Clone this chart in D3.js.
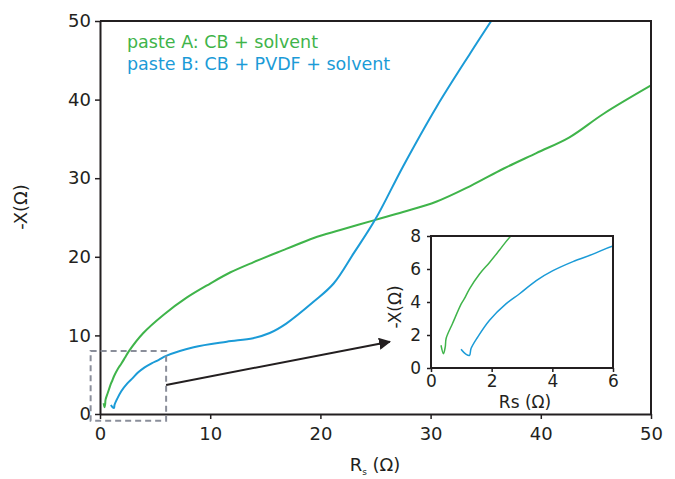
<!DOCTYPE html>
<html>
<head>
<meta charset="utf-8">
<script src="https://cdn.jsdelivr.net/npm/d3@7"></script>
<style>
  body { margin: 0; background: #fff; }
  text { font-family: "DejaVu Sans", sans-serif; fill: #231f20; }
</style>
</head>
<body>
<script>
var w = 675;
var h = 479;

// paste A (CB + solvent)
var pasteA_rs = [0.33, 0.41, 0.47, 0.5, 0.71, 1.0, 1.1, 1.27, 1.6, 1.93, 2.26, 2.61, 3.93, 5.75, 7.86, 10, 11.8, 13.9, 16.9, 19.4, 21.8, 25, 27.5, 30.5, 33.6, 36.6, 39.6, 42.6, 45.7, 50];
var pasteA_x  = [1.38, 0.87, 1.28, 1.8, 2.7, 3.9, 4.2, 4.8, 5.7, 6.4, 7.15, 7.96, 10.3, 12.6, 14.8, 16.6, 18.0, 19.3, 21.0, 22.4, 23.4, 24.7, 25.7, 27.0, 29.0, 31.2, 33.2, 35.2, 38.2, 41.8];

// paste B (CB + PVDF + solvent)
var pasteB_rs = [0.99, 1.16, 1.27, 1.32, 1.54, 1.93, 2.48, 2.92, 3.47, 4.02, 4.68, 5.34, 6.0, 8.5, 11.5, 13.9, 15.4, 16.9, 19.4, 21.2, 23, 25, 27.5, 30.55, 33.6, 35.5];
var pasteB_x  = [1.14, 0.83, 0.77, 1.18, 1.88, 2.9, 3.9, 4.5, 5.3, 5.9, 6.45, 6.9, 7.4, 8.5, 9.2, 9.65, 10.3, 11.5, 14.3, 16.6, 20.4, 24.8, 31.5, 39.1, 45.9, 50];

var mainTicks = [0, 10, 20, 30, 40, 50];
var insetXTicks = [0, 2, 4, 6];
var insetYTicks = [0, 2, 4, 6, 8];
var legendLabels = ["paste A: CB + solvent", "paste B: CB + PVDF + solvent"];

var green = "#3fb44a";
var blue = "#1b9bd7";
var axisColor = "#231f20";

function zip(a, b) { return a.map(function(v, i) { return [v, b[i]]; }); }
var seriesA = zip(pasteA_rs, pasteA_x);
var seriesB = zip(pasteB_rs, pasteB_x);

var svg = d3.select("body").append("svg")
    .attr("width", w)
    .attr("height", h);

// ---- main plot ----
var x = d3.scaleLinear().domain([0, 50]).range([100, 651]);
var y = d3.scaleLinear().domain([0, 50]).range([414, 21]);

svg.append("clipPath").attr("id", "clipMain")
  .append("rect").attr("x", 100).attr("y", 21).attr("width", 551).attr("height", 393);

var line = d3.line()
    .x(function(d) { return x(d[0]); })
    .y(function(d) { return y(d[1]); })
    .curve(d3.curveCatmullRom.alpha(0.5));

var plot = svg.append("g").attr("clip-path", "url(#clipMain)");
plot.append("path").datum(seriesA).attr("d", line)
    .attr("fill", "none").attr("stroke", green).attr("stroke-width", 2);
plot.append("path").datum(seriesB).attr("d", line)
    .attr("fill", "none").attr("stroke", blue).attr("stroke-width", 2);

// frame (top + right)
svg.append("path")
    .attr("d", "M100,21H651V414")
    .attr("fill", "none").attr("stroke", axisColor).attr("stroke-width", 2);

var xAxis = svg.append("g")
    .attr("transform", "translate(0,414)")
    .call(d3.axisBottom(x).tickValues(mainTicks).tickSize(5).tickPadding(8).tickSizeOuter(0));
var yAxis = svg.append("g")
    .attr("transform", "translate(100,0)")
    .call(d3.axisLeft(y).tickValues(mainTicks).tickSize(5).tickPadding(4).tickSizeOuter(0));

[xAxis, yAxis].forEach(function(g) {
  g.select(".domain").attr("stroke", axisColor).attr("stroke-width", 2);
  g.selectAll(".tick line").attr("stroke", axisColor).attr("stroke-width", 1.5);
  g.selectAll(".tick text").attr("font-size", 18).attr("font-family", "DejaVu Sans").attr("fill", axisColor);
});

// axis titles
var xt = svg.append("text")
    .attr("x", 375).attr("y", 471)
    .attr("text-anchor", "middle")
    .attr("font-size", 18);
xt.append("tspan").text("R");
xt.append("tspan").attr("font-size", 9).attr("dy", 4).text("s");
xt.append("tspan").attr("dy", -4).text(" (Ω)");

svg.append("text")
    .attr("transform", "translate(27,207) rotate(-90)")
    .attr("text-anchor", "middle")
    .attr("font-size", 18)
    .text("-X(Ω)");

// legend
svg.selectAll("text.legend")
    .data(legendLabels)
    .enter().append("text")
    .attr("class", "legend")
    .attr("x", 127)
    .attr("y", function(d, i) { return 48 + i * 22; })
    .attr("font-size", 17.5)
    .style("fill", function(d, i) { return i === 0 ? green : blue; })
    .text(function(d) { return d; });

// dashed zoom box
svg.append("rect")
    .attr("x", x(-0.85)).attr("y", y(8))
    .attr("width", x(6) - x(-0.85)).attr("height", y(-0.85) - y(8))
    .attr("fill", "none")
    .attr("stroke", "#8a8e9a")
    .attr("stroke-width", 2)
    .attr("stroke-dasharray", "6,4");

// arrow
svg.append("defs").append("marker")
    .attr("id", "arrow")
    .attr("viewBox", "0 0 10 10")
    .attr("refX", 9).attr("refY", 5)
    .attr("markerWidth", 12).attr("markerHeight", 12)
    .attr("markerUnits", "userSpaceOnUse")
    .attr("orient", "auto")
  .append("path").attr("d", "M0,0L10,5L0,10Z").attr("fill", "#231f20");

svg.append("line")
    .attr("x1", x(6)).attr("y1", y(3.7))
    .attr("x2", x(26.3)).attr("y2", y(9.2))
    .attr("stroke", "#231f20").attr("stroke-width", 2)
    .attr("marker-end", "url(#arrow)");

// ---- inset ----
var ix = d3.scaleLinear().domain([0, 6]).range([431, 613]);
var iy = d3.scaleLinear().domain([0, 8]).range([368, 236]);

svg.append("rect")
    .attr("x", 431).attr("y", 236).attr("width", 182).attr("height", 132)
    .attr("fill", "#fff");

svg.append("clipPath").attr("id", "clipInset")
  .append("rect").attr("x", 431).attr("y", 236).attr("width", 182).attr("height", 132);

var iline = d3.line()
    .x(function(d) { return ix(d[0]); })
    .y(function(d) { return iy(d[1]); })
    .curve(d3.curveCatmullRom.alpha(0.5));

var inset = svg.append("g").attr("clip-path", "url(#clipInset)");
inset.append("path").datum(seriesA.filter(function(d) { return d[0] < 4; })).attr("d", iline)
    .attr("fill", "none").attr("stroke", green).attr("stroke-width", 1.5);
inset.append("path").datum(seriesB.filter(function(d) { return d[0] < 9; })).attr("d", iline)
    .attr("fill", "none").attr("stroke", blue).attr("stroke-width", 1.5);

svg.append("rect")
    .attr("x", 431).attr("y", 236).attr("width", 182).attr("height", 132)
    .attr("fill", "none").attr("stroke", axisColor).attr("stroke-width", 2);

var ixAxis = svg.append("g")
    .attr("transform", "translate(0,368)")
    .call(d3.axisBottom(ix).tickValues(insetXTicks).tickFormat(d3.format("d"))
      .tickSize(4).tickPadding(3).tickSizeOuter(0));
var iyAxis = svg.append("g")
    .attr("transform", "translate(431,0)")
    .call(d3.axisLeft(iy).tickValues(insetYTicks).tickFormat(d3.format("d"))
      .tickSize(4).tickPadding(6).tickSizeOuter(0));

[ixAxis, iyAxis].forEach(function(g) {
  g.select(".domain").remove();
  g.selectAll(".tick line").attr("stroke", axisColor).attr("stroke-width", 1.5);
  g.selectAll(".tick text").attr("font-size", 17).attr("font-family", "DejaVu Sans").attr("fill", axisColor);
});

svg.append("text")
    .attr("x", 525).attr("y", 408)
    .attr("text-anchor", "middle")
    .attr("font-size", 17)
    .text("Rs (Ω)");

svg.append("text")
    .attr("transform", "translate(401,307) rotate(-90)")
    .attr("text-anchor", "middle")
    .attr("font-size", 17)
    .text("-X(Ω)");
</script>
</body>
</html>
